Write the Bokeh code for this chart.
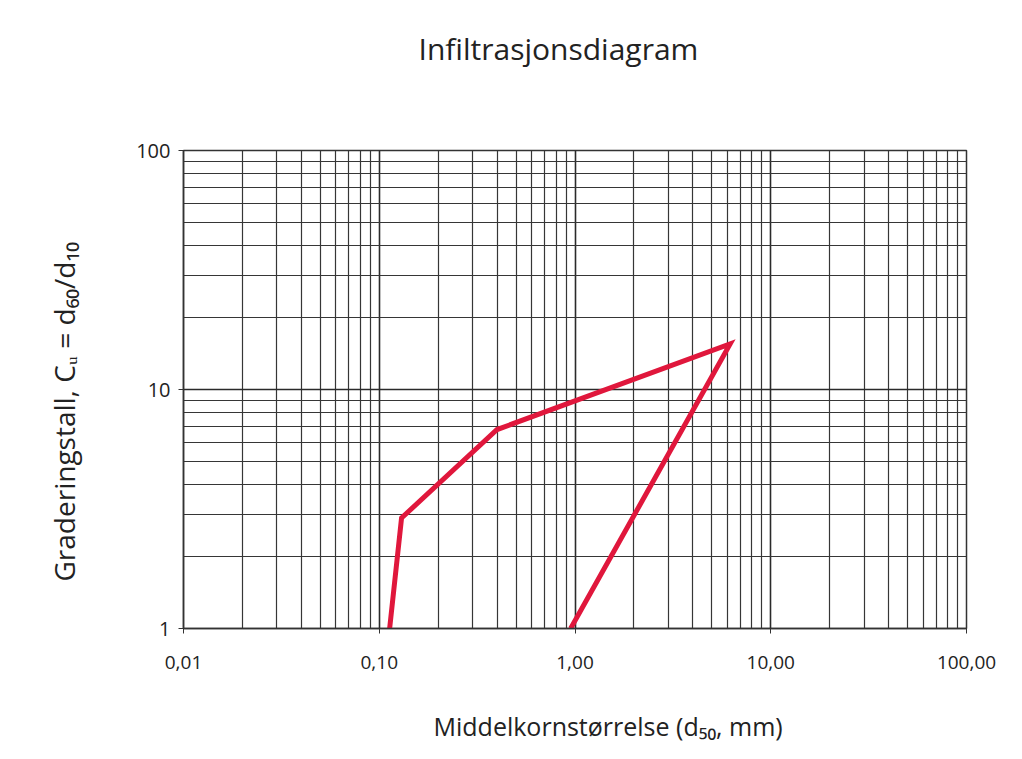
from bokeh.plotting import figure
from bokeh.models import FixedTicker, CustomJSTickFormatter, Title
from bokeh.embed import file_html
from bokeh.resources import INLINE

# data
curve_x = [0.113, 0.13, 0.40, 6.2, 0.95]
curve_y = [1.0, 2.9, 6.8, 15.5, 1.0]
x_ticks = [0.01, 0.1, 1, 10, 100]
y_ticks = [1, 10, 100]
x_minor = [m * 10.0 ** e for e in range(-2, 2) for m in range(2, 10)]
y_minor = [m * 10.0 ** e for e in range(0, 2) for m in range(2, 10)]
title_text = "Infiltrasjonsdiagram"
x_label_text = "Middelkornstørrelse (d₅₀, mm)"
y_label_text = "Graderingstall, Cᵤ = d₆₀/d₁₀"

FONT = "Open Sans"
INK = "#222222"

p = figure(width=1008, height=748, x_axis_type="log", y_axis_type="log",
           x_range=(0.01, 100), y_range=(1, 100), title=None,
           output_backend="svg", toolbar_location=None,
           min_border_left=183, min_border_top=150, min_border_right=42,
           min_border_bottom=120)

p.xaxis.ticker = FixedTicker(ticks=x_ticks, minor_ticks=x_minor)
p.yaxis.ticker = FixedTicker(ticks=y_ticks, minor_ticks=y_minor)
p.xaxis.formatter = CustomJSTickFormatter(code="return tick.toFixed(2).replace('.', ',');")
p.yaxis.formatter = CustomJSTickFormatter(code="return tick.toFixed(0);")

for ax in (p.xaxis[0], p.yaxis[0]):
    ax.major_label_text_font = FONT
    ax.major_label_text_font_size = "19px"
    ax.major_label_text_color = INK
    ax.axis_line_color = "#333333"
    ax.axis_line_width = 1.5
    ax.major_tick_in = 0
    ax.major_tick_out = 5
    ax.major_tick_line_color = "#333333"
    ax.minor_tick_in = 0
    ax.minor_tick_out = 0

p.xaxis.major_label_standoff = 22
p.yaxis.major_label_standoff = 8
p.yaxis.major_label_text_font_size = "20px"

for g in (p.xgrid[0], p.ygrid[0]):
    g.grid_line_color = "#2a2a2a"
    g.grid_line_width = 1.6
    g.minor_grid_line_color = "#363636"
    g.minor_grid_line_width = 1.2

p.outline_line_color = "#333333"
p.outline_line_width = 1.5
p.background_fill_color = "white"
p.border_fill_color = "white"

p.line(curve_x, curve_y, line_color="#e0173c", line_width=5, line_join="miter")


def spacer(gap):
    return Title(text=" ", text_font_size="1px", standoff=gap)


# top: spacer next to frame, then title
p.add_layout(spacer(74), "above")
p.add_layout(Title(text=title_text, align="left", offset=235, vertical_align="bottom",
                   text_font=FONT, text_font_size="30px", text_font_style="normal",
                   text_color=INK, standoff=10), "above")

# bottom: axis, spacer, label
p.add_layout(spacer(32), "below")
p.add_layout(Title(text=x_label_text, align="left", offset=250, vertical_align="top",
                   text_font=FONT, text_font_size="25px", text_font_style="normal",
                   text_color=INK, standoff=4), "below")

# left: axis, spacer, label
p.add_layout(spacer(46), "left")
p.add_layout(Title(text=y_label_text, align="left", offset=47, vertical_align="bottom",
                   text_font=FONT, text_font_size="28px", text_font_style="normal",
                   text_color=INK, standoff=4), "left")

open("out.html", "w").write(file_html(p, INLINE))
